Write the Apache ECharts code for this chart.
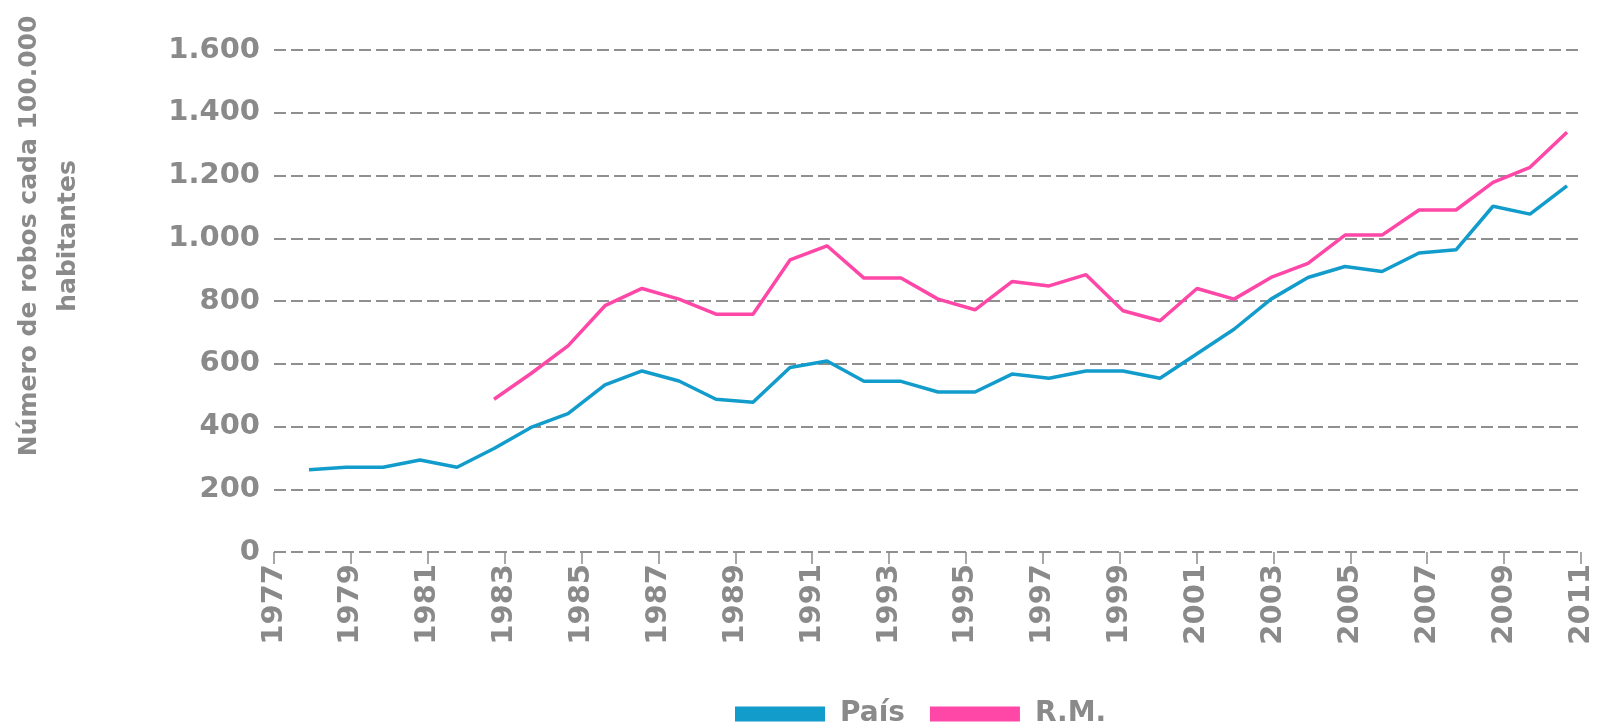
<!DOCTYPE html>
<html>
<head>
<meta charset="utf-8">
<script src="https://cdn.jsdelivr.net/npm/echarts@6/dist/echarts.min.js"></script>
<style>
html, body { margin: 0; padding: 0; background: #fff; }
#container { width: 1602px; height: 728px; }
</style>
</head>
<body>
<div id="container"></div>
<script>
// datos: robos cada 100.000 habitantes
var years = [1977, 1978, 1979, 1980, 1981, 1982, 1983, 1984, 1985, 1986,
  1987, 1988, 1989, 1990, 1991, 1992, 1993, 1994, 1995, 1996,
  1997, 1998, 1999, 2000, 2001, 2002, 2003, 2004, 2005, 2006,
  2007, 2008, 2009, 2010, 2011];
var pais = [262, 270, 270, 293, 270, 330, 397, 441, 533, 577,
  545, 487, 477, 588, 609, 544, 544, 510, 510, 567,
  554, 577, 577, 554, 632, 710, 806, 875, 910, 894,
  953, 963, 1102, 1077, 1167];
var rm = ['-', '-', '-', '-', '-', 487, 569, 657, 785, 840,
  806, 758, 758, 931, 976, 873, 873, 806, 772, 862,
  848, 884, 769, 737, 840, 806, 875, 920, 1010, 1010,
  1090, 1090, 1178, 1226, 1338];
var tickYears = [1977, 1979, 1981, 1983, 1985, 1987, 1989, 1991, 1993,
  1995, 1997, 1999, 2001, 2003, 2005, 2007, 2009, 2011];

var dom = document.getElementById("container");
var myChart = echarts.init(dom);
var gris = '#8a8a8a';
var fuente = 'DejaVu Sans';

var option = {
  animation: false,
  textStyle: { fontFamily: fuente },
  grid: [
    { left: 274, right: 21, top: 50, bottom: 176 },
    { left: 309, right: 35, top: 50, bottom: 176 }
  ],
  legend: {
    data: ['País', 'R.M.'],
    icon: 'rect',
    itemWidth: 90,
    itemHeight: 15,
    itemGap: 25,
    left: 730,
    top: 695,
    textStyle: { color: gris, fontSize: 28, fontWeight: 'bold', fontFamily: fuente, padding: [0, 0, 0, 10] }
  },
  graphic: [{
    type: 'text',
    x: 49,
    y: 236,
    rotation: Math.PI / 2,
    style: {
      text: 'Número de robos cada 100.000\nhabitantes',
      fill: gris,
      font: 'bold 25px "DejaVu Sans"',
      lineHeight: 39,
      align: 'center',
      verticalAlign: 'middle'
    }
  }],
  xAxis: [{
    type: 'value',
    gridIndex: 0,
    min: 1977,
    max: 2011,
    axisLine: { show: false },
    splitLine: { show: false },
    axisTick: { show: true, length: 12, customValues: tickYears, lineStyle: { color: gris, width: 1.5 } },
    axisLabel: {
      customValues: tickYears,
      rotate: 90,
      margin: 12,
      color: gris,
      fontSize: 29,
      fontWeight: 'bold',
      fontFamily: fuente,
      formatter: function (v) { return String(v); }
    }
  }, {
    type: 'category',
    gridIndex: 1,
    data: years,
    boundaryGap: false,
    show: false
  }],
  yAxis: [{
    type: 'value',
    gridIndex: 0,
    min: 0,
    max: 1600,
    interval: 200,
    axisLine: { show: false },
    axisTick: { show: false },
    axisLabel: {
      color: gris,
      fontSize: 29,
      fontWeight: 'bold',
      fontFamily: fuente,
      margin: 14,
      formatter: function (v) {
        if (v >= 1000) {
          var s = String(v);
          return s.slice(0, s.length - 3) + '.' + s.slice(s.length - 3);
        }
        return String(v);
      }
    },
    splitLine: { show: true, lineStyle: { color: '#8f8f8f', width: 2, type: [12, 5] } }
  }, {
    type: 'value',
    gridIndex: 1,
    min: 0,
    max: 1600,
    show: false,
    splitLine: { show: false }
  }],
  series: [{
    name: 'País',
    type: 'line',
    xAxisIndex: 1,
    yAxisIndex: 1,
    data: pais,
    symbol: 'none',
    color: '#129ccb',
    lineStyle: { width: 3.5, color: '#129ccb' }
  }, {
    name: 'R.M.',
    type: 'line',
    xAxisIndex: 1,
    yAxisIndex: 1,
    data: rm,
    symbol: 'none',
    color: '#fe47a6',
    lineStyle: { width: 3.5, color: '#fe47a6' }
  }]
};

if (option && typeof option === "object") {
  myChart.setOption(option, true);
}
</script>
</body>
</html>
